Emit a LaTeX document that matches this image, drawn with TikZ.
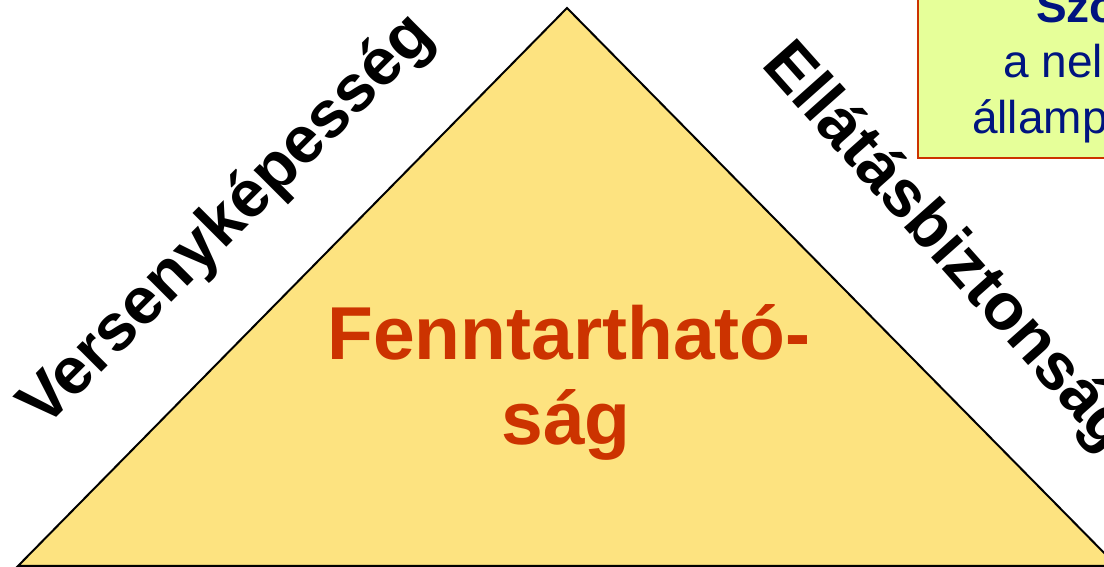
\documentclass[tikz,border=0pt]{standalone}
\usepackage{fontspec}
\setmainfont{Liberation Sans}
\definecolor{trifill}{RGB}{253,227,128}
\definecolor{boxfill}{RGB}{230,255,153}
\definecolor{boxline}{RGB}{204,51,0}
\definecolor{redtxt}{RGB}{204,51,0}
\definecolor{bluetxt}{RGB}{0,20,128}
\tikzset{
  sidelabel/.style={inner sep=0pt, font=\fontsize{66}{75}\selectfont\bfseries, text=black},
  centerlabel/.style={inner sep=0pt, font=\fontsize{75}{85}\selectfont\bfseries, text=redtxt},
  boxtext/.style={inner sep=0pt, font=\fontsize{46}{55}\selectfont, text=bluetxt},
  boxtitle/.style={inner sep=0pt, font=\fontsize{46}{55}\selectfont\bfseries, text=bluetxt},
}
\begin{document}
\begin{tikzpicture}[x=1pt,y=1pt]
\clip (0,0) rectangle (1104,567);
\fill[white] (0,0) rectangle (1104,567);
% triangle
\coordinate (bl) at (18,1);
\coordinate (apex) at (567,559);
\coordinate (br) at (1117,1);
\filldraw[fill=trifill, draw=black, line width=2pt, line join=miter] (bl) -- (apex) -- (br) -- cycle;
% box (extends past the frame)
\filldraw[fill=boxfill, draw=boxline, line width=2pt] (918,409) rectangle (1160,600);
\node[boxtitle, anchor=base west] (bt1) at (1036,544) {Szo};
\node[boxtext, anchor=base west] (bt2) at (1003,489) {a nel};
\node[boxtext, anchor=base west] (bt3) at (972,433) {államp};
% center label
\node[centerlabel, anchor=base] (f1) at (569,207) {Fenntartható-};
\node[centerlabel, anchor=base] (f2) at (566,122) {ság};
% side labels
\node[sidelabel, anchor=base, rotate=45] (vk) at (240,333) {Versenyképesség};
\node[sidelabel, anchor=base west, rotate=-48.3] (eb) at (760,502) {Ellátásbiztonság};
\end{tikzpicture}
\end{document}
